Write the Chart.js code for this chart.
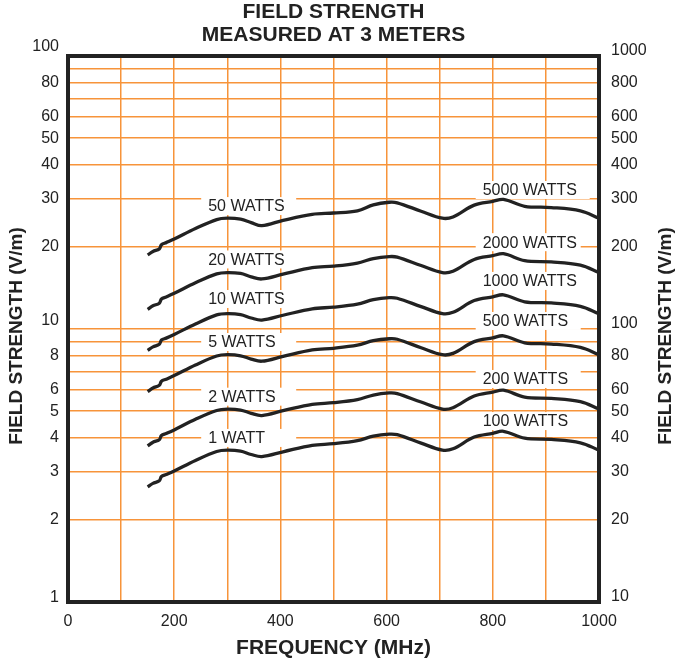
<!DOCTYPE html>
<html>
<head>
<meta charset="utf-8">
<script src="https://cdn.jsdelivr.net/npm/chart.js@4/dist/chart.umd.min.js"></script>
<style>
  body { margin: 0; background: #fff; }
  canvas { display: block; }
</style>
</head>
<body>
<canvas id="fieldChart" width="677" height="662"></canvas>
<script>
// frequency (MHz) where the curves were read
const freqs = [150, 160, 172, 176, 185, 200, 240, 280, 300, 325, 345, 365, 405, 460, 500, 545, 575, 605, 620, 665, 705, 725, 765, 800, 820, 860, 910, 965, 1000];

// field strength (V/m, left axis) for each power curve
const watt50 = [18.67, 19.23, 19.66, 20.36, 20.72, 21.35, 23.33, 25.17, 25.46, 25.24, 24.54, 23.9, 25.0, 26.3, 26.6, 27.1, 28.5, 29.13, 28.99, 27.01, 25.46, 25.74, 28.43, 29.34, 29.84, 28.14, 27.86, 27.08, 25.46];
const watt20 = [11.81, 12.16, 12.43, 12.88, 13.1, 13.51, 14.76, 15.92, 16.1, 15.97, 15.52, 15.25, 15.88, 16.77, 16.99, 17.44, 18.11, 18.42, 18.34, 17.08, 16.1, 16.28, 17.98, 18.56, 18.87, 17.8, 17.62, 17.13, 16.1];
const watt10 = [8.35, 8.6, 8.79, 9.11, 9.26, 9.55, 10.43, 11.26, 11.38, 11.29, 10.97, 10.78, 11.23, 11.86, 12.02, 12.33, 12.81, 13.03, 12.96, 12.08, 11.38, 11.51, 12.71, 13.12, 13.34, 12.58, 12.46, 12.11, 11.38];
const watt5 = [5.9, 6.08, 6.22, 6.44, 6.55, 6.75, 7.38, 7.96, 8.05, 7.98, 7.76, 7.62, 7.94, 8.39, 8.5, 8.72, 9.06, 9.21, 9.17, 8.54, 8.05, 8.14, 8.99, 9.28, 9.44, 8.9, 8.81, 8.56, 8.05];
const watt2 = [3.73, 3.85, 3.93, 4.07, 4.14, 4.27, 4.67, 5.03, 5.09, 5.05, 4.91, 4.82, 5.02, 5.3, 5.37, 5.51, 5.73, 5.83, 5.8, 5.4, 5.09, 5.15, 5.68, 5.87, 5.97, 5.63, 5.57, 5.42, 5.09];
const watt1 = [2.64, 2.72, 2.78, 2.88, 2.93, 3.02, 3.3, 3.56, 3.6, 3.57, 3.47, 3.41, 3.55, 3.75, 3.8, 3.9, 4.05, 4.12, 4.1, 3.82, 3.6, 3.64, 4.02, 4.15, 4.22, 3.98, 3.94, 3.83, 3.6];

// axis ticks
const yTicks = [1, 2, 3, 4, 5, 6, 7, 8, 9, 10, 20, 30, 40, 50, 60, 70, 80, 90, 100];
const yLabels = [2, 3, 4, 5, 6, 8, 20, 30, 40, 50, 60, 80];
const yDecades = [1, 10, 100];   // these labels sit a little above their lines
const xLabels = [0, 200, 400, 600, 800, 1000];

const leftNames = ['50 WATTS', '20 WATTS', '10 WATTS', '5 WATTS', '2 WATTS', '1 WATT'];

const FONT = '"Liberation Sans", Arial, Helvetica, sans-serif';
const ORANGE = '#f7943a';
const INK = '#222';

Chart.defaults.font.family = FONT;
Chart.defaults.font.size = 16;
Chart.defaults.color = INK;

const series = [watt50, watt20, watt10, watt5, watt2, watt1];
const datasets = series.map((vals, i) => ({
  label: leftNames[i],
  data: freqs.map((f, j) => ({ x: f, y: vals[j] })),
  borderColor: INK,
  borderWidth: 3.3,
  pointRadius: 0,
  tension: 0.35,
  fill: false
}));

// where the curve names sit (MHz, V/m) - left-aligned text with a white box
const curveTags = [
  { t: '50 WATTS', x: 264, y: 28.2, w: 95 },
  { t: '20 WATTS', x: 264, y: 17.98, w: 95 },
  { t: '10 WATTS', x: 264, y: 12.88, w: 95 },
  { t: '5 WATTS', x: 264, y: 8.96, w: 95 },
  { t: '2 WATTS', x: 264, y: 5.65, w: 95 },
  { t: '1 WATT', x: 264, y: 3.99, w: 95 },
  { t: '5000 WATTS', x: 781, y: 32.3, w: 114 },
  { t: '2000 WATTS', x: 781, y: 20.8, w: 105 },
  { t: '1000 WATTS', x: 781, y: 15.0, w: 105 },
  { t: '500 WATTS', x: 781, y: 10.7, w: 105 },
  { t: '200 WATTS', x: 781, y: 6.56, w: 105 },
  { t: '100 WATTS', x: 781, y: 4.6, w: 105 }
];

const decor = {
  id: 'decor',
  beforeDatasetsDraw(chart) {
    const { ctx, scales } = chart;
    ctx.save();
    ctx.font = '16px ' + FONT;
    ctx.textBaseline = 'middle';
    ctx.textAlign = 'left';
    curveTags.forEach(tag => {
      const px = scales.x.getPixelForValue(tag.x);
      const py = scales.y.getPixelForValue(tag.y);
      ctx.fillStyle = '#fff';
      ctx.fillRect(px - 7, py - 9, tag.w, 18);
      ctx.fillStyle = INK;
      ctx.fillText(tag.t, px, py + 1);
    });
    ctx.restore();
  },
  afterDraw(chart) {
    const { ctx, chartArea: a, scales } = chart;
    ctx.save();
    ctx.strokeStyle = INK;
    ctx.lineWidth = 4;
    ctx.strokeRect(a.left, a.top, a.right - a.left, a.bottom - a.top);

    // decade labels on both value axes
    ctx.fillStyle = INK;
    ctx.font = '16px ' + FONT;
    ctx.textBaseline = 'middle';
    const lift = [4, 8, 9];
    yDecades.forEach((v, i) => {
      const py = scales.y.getPixelForValue(v);
      ctx.textAlign = 'right';
      ctx.fillText(String(v), a.left - 9, py - lift[i]);
      ctx.textAlign = 'left';
      ctx.fillText(String(v * 10), a.right + 12, py - 5);
    });

    const cx = (a.left + a.right) / 2;
    ctx.textAlign = 'center';
    ctx.font = 'bold 21px ' + FONT;
    ctx.fillText('FIELD STRENGTH', cx, 12);
    ctx.fillText('MEASURED AT 3 METERS', cx, 35);
    ctx.fillText('FREQUENCY (MHz)', cx, 648);

    ctx.font = 'bold 19px ' + FONT;
    [17, 666].forEach(x => {
      ctx.save();
      ctx.translate(x, 336);
      ctx.rotate(-Math.PI / 2);
      ctx.fillText('FIELD STRENGTH (V/m)', 0, 0);
      ctx.restore();
    });
    ctx.restore();
  }
};

const edgeOrGrid = (lo, hi) => c => {
  const v = c.tick ? c.tick.value : null;
  return (v === lo || v === hi) ? 'rgba(0,0,0,0)' : ORANGE;
};

new Chart(document.getElementById('fieldChart'), {
  type: 'line',
  data: { datasets },
  options: {
    responsive: false,
    animation: false,
    layout: { padding: { top: 56, left: 0, right: 0, bottom: 0 } },
    plugins: { legend: { display: false }, tooltip: { enabled: false } },
    scales: {
      x: {
        type: 'linear',
        min: 0,
        max: 1000,
        ticks: {
          stepSize: 100,
          autoSkip: false,
          maxRotation: 0,
          padding: 10,
          callback: v => xLabels.includes(v) ? String(v) : ''
        },
        grid: { color: edgeOrGrid(0, 1000), lineWidth: 1.5, drawTicks: false },
        border: { display: false },
        afterFit: s => { s.height = 60; }
      },
      y: {
        type: 'logarithmic',
        position: 'left',
        min: 1,
        max: 100,
        afterBuildTicks: s => { s.ticks = yTicks.map(v => ({ value: v })); },
        ticks: {
          autoSkip: false,
          padding: 9,
          callback: v => yLabels.includes(v) ? String(v) : ''
        },
        grid: { color: edgeOrGrid(1, 100), lineWidth: 1.5, drawTicks: false },
        border: { display: false },
        afterFit: s => { s.width = 68; }
      },
      y2: {
        type: 'logarithmic',
        position: 'right',
        min: 10,
        max: 1000,
        afterBuildTicks: s => { s.ticks = yTicks.map(v => ({ value: v * 10 })); },
        ticks: {
          autoSkip: false,
          padding: 12,
          callback: v => yLabels.includes(v / 10) ? String(v) : ''
        },
        grid: { display: false, drawTicks: false },
        border: { display: false },
        afterFit: s => { s.width = 78; }
      }
    }
  },
  plugins: [decor]
});
</script>
</body>
</html>
